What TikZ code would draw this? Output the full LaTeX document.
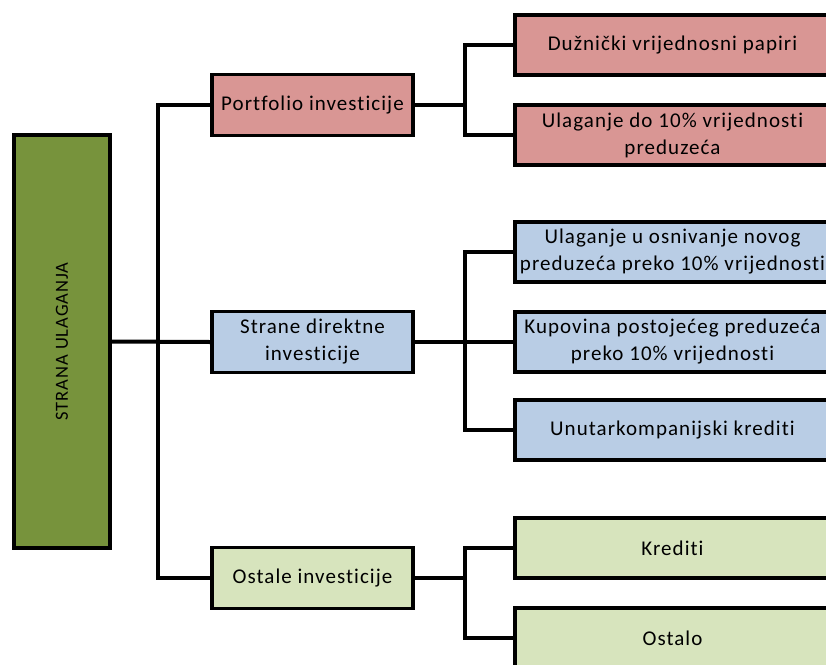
\documentclass[tikz,border=0pt]{standalone}
\usepackage{fontspec}
\setmainfont{Carlito}[Ligatures=NoCommon,LetterSpace=5]
\definecolor{korijen}{HTML}{77933C}
\definecolor{roza}{HTML}{D99694}
\definecolor{plava}{HTML}{B9CDE5}
\definecolor{zelena}{HTML}{D7E4BD}

\begin{document}
\begin{tikzpicture}[x=1pt,y=-1pt,
  kutija/.style={draw,line width=3.5pt,inner sep=2pt,align=center,
    font=\fontsize{21}{27}\selectfont},
  srednja/.style={kutija,minimum width=201,minimum height=61},
  desna/.style={kutija,minimum width=315,minimum height=60},
  veza/.style={line width=4pt,line cap=rect}]
  \useasboundingbox (0,0) rectangle (826,664);
  \clip (0,0) rectangle (826,664);

  \node[kutija,fill=korijen,minimum width=96,minimum height=413] (root) at (62,341.5) {};
  \node[rotate=90,font=\fontsize{18.5}{22}\selectfont] at (root.center) {STRANA ULAGANJA};

  \node[srednja,fill=roza] (port) at (312.5,105) {Portfolio investicije};
  \node[srednja,fill=plava] (sdi) at (312.5,342) {Strane direktne\\investicije};
  \node[srednja,fill=zelena] (ost) at (312.5,578) {Ostale investicije};

  \node[desna,fill=roza] (dvp) at (672.5,45) {Dužnički vrijednosni papiri};
  \node[desna,fill=roza] (ud) at (672.5,135) {Ulaganje do 10\% vrijednosti\\preduzeća};
  \node[desna,fill=plava] (uon) at (672.5,252) {Ulaganje u osnivanje novog\\preduzeća preko 10\% vrijednosti};
  \node[desna,fill=plava] (kpp) at (672.5,342) {Kupovina postojećeg preduzeća\\preko 10\% vrijednosti};
  \node[desna,fill=plava] (uk) at (672.5,430) {Unutarkompanijski krediti};
  \node[desna,fill=zelena] (kr) at (672.5,548) {Krediti};
  \node[desna,fill=zelena] (osl) at (672.5,638) {Ostalo};

  % grananje
  \coordinate (t0) at (158,342);
  \coordinate (t1) at (465,105);
  \coordinate (t2) at (465,342);
  \coordinate (t3) at (465,578);

  \draw[veza] (root.east) -- (sdi.west);
  \draw[veza] (port.west) -| (t0);
  \draw[veza] (ost.west) -| (t0);

  \draw[veza] (port.east) -- (t1);
  \foreach \n in {dvp,ud}
    \draw[veza] (\n.west) -| (t1);
  \draw[veza] (sdi.east) -- (kpp.west);
  \foreach \n in {uon,uk}
    \draw[veza] (\n.west) -| (t2);
  \draw[veza] (ost.east) -- (t3);
  \foreach \n in {kr,osl}
    \draw[veza] (\n.west) -| (t3);
\end{tikzpicture}
\end{document}
